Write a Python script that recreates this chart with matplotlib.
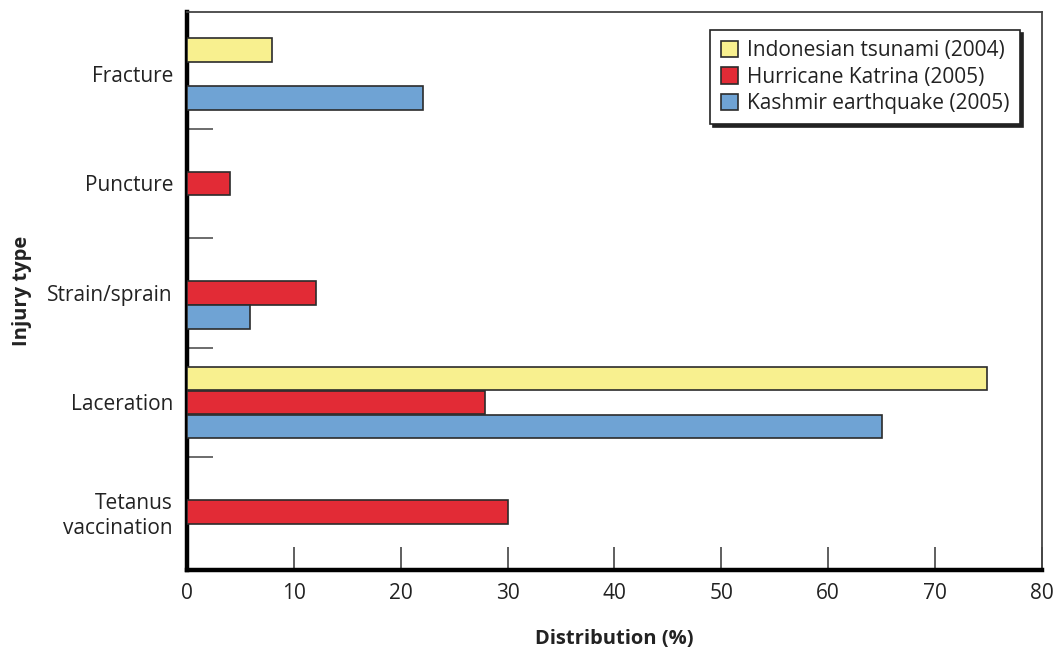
import numpy as np
import matplotlib
matplotlib.use("Agg")
import matplotlib.pyplot as plt

plt.rcParams["font.family"] = ["Open Sans", "DejaVu Sans"]

# data
injury_types = ["Fracture", "Puncture", "Strain/sprain", "Laceration", "Tetanus\nvaccination"]
series_names = ["Indonesian tsunami (2004)", "Hurricane Katrina (2005)", "Kashmir earthquake (2005)"]
tsunami = [8.0, 0, 0, 74.9, 0]
katrina = [0, 4.0, 12.1, 27.9, 30.0]
kashmir = [22.1, 0, 5.9, 65.0, 0]
x_ticks = [0, 10, 20, 30, 40, 50, 60, 70, 80]

colors = ["#f8f08f", "#e22b36", "#6fa3d4"]

fig = plt.figure(figsize=(10.56, 6.47), dpi=100)
ax = fig.add_axes([0.177, 0.119, 0.8097, 0.8625])

y = np.arange(len(injury_types))
bar_h = 0.215
offset = 0.219
for vals, off, col, name in zip([tsunami, katrina, kashmir], [-offset, 0, offset], colors, series_names):
    v = np.array(vals, dtype=float)
    mask = v > 0
    ax.barh(y[mask] + off, v[mask], height=bar_h, color=col, edgecolor="#2b2b2b",
            linewidth=1.2, label=name, zorder=3)

ax.set_xlim(0, 80)
ax.set_ylim(4.53, -0.566)
ax.set_xticks(x_ticks)
ax.set_yticks(y)
ax.set_yticklabels(injury_types, linespacing=1.2)
ax.set_yticks(y[:-1] + 0.5, minor=True)

ax.tick_params(axis="x", direction="in", length=16.5, width=1.2, color="#444444",
               labelsize=15, pad=9, labelcolor="#222222")
ax.tick_params(axis="y", which="major", length=0, labelsize=15, pad=10, labelcolor="#222222")
ax.tick_params(axis="y", which="minor", direction="in", length=18.5, width=1.1, color="#444444")

for side in ["left", "bottom"]:
    ax.spines[side].set_linewidth(3.2)
    ax.spines[side].set_color("black")
for side in ["top", "right"]:
    ax.spines[side].set_linewidth(1.3)
    ax.spines[side].set_color("#444444")

ax.set_xlabel("Distribution (%)", fontsize=14.5, fontweight="bold", labelpad=18, color="#222222")
ax.set_ylabel("Injury type", fontsize=14.5, fontweight="bold", labelpad=11, color="#222222")

leg = ax.legend(loc="upper right", bbox_to_anchor=(0.974, 0.968), borderaxespad=0,
                fontsize=15, frameon=True, fancybox=False, handlelength=0.85,
                handleheight=0.85, handletextpad=0.4, labelspacing=0.26,
                borderpad=0.5, shadow={"color": "#222222", "alpha": 1.0})
leg.get_frame().set_edgecolor("#222222")
leg.get_frame().set_linewidth(1.2)
for t in leg.get_texts():
    t.set_color("#222222")

fig.savefig("out.png", dpi=100)
